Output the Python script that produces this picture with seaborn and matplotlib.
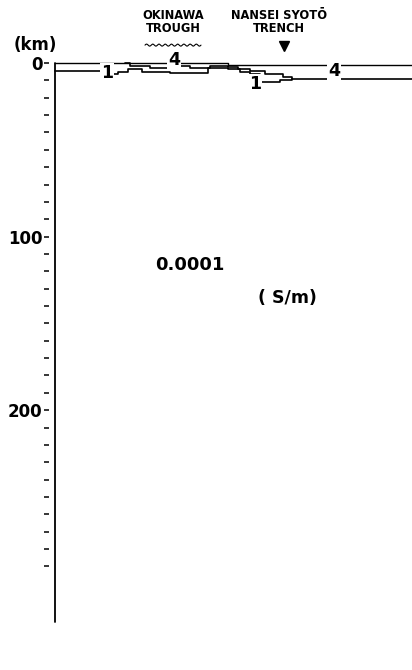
import numpy as np
import pandas as pd
import matplotlib
matplotlib.use("Agg")
import matplotlib.pyplot as plt
from matplotlib.ticker import FixedLocator
import seaborn as sns

# Model top (sea surface) boundary: distance (km) and depth (km)
top_x = [0, 346, 714]
top_z = [0.0, 1.2, 1.2]

# Contour 4 S/m (sea water / sea floor)
sea_x = [140, 150, 190, 230, 270, 310, 346, 366, 390, 420, 456, 474, 714]
sea_z = [0.0, 1.7, 2.9, 1.7, 2.9, 1.7, 2.3, 3.5, 4.6, 6.3, 8.1, 9.2, 9.2]

# Contour 1 S/m (base of sediments)
sed_x = [0, 104, 126, 146, 174, 230, 306, 346, 370, 390, 410, 450, 474]
sed_z = [4.6, 6.3, 5.2, 3.5, 5.2, 5.8, 2.9, 3.5, 5.2, 6.3, 11.0, 9.8, 9.2]

# Contour labels: (distance, depth, text)
label_x = [238, 558, 104, 400]
label_z = [-1.7, 4.6, 5.8, 12.1]
label_txt = ["4", "4", "1", "1"]

# Background conductivity annotation
bg_value = "0.0001"
bg_unit = "( S/m)"

# Features along the profile
trough_x = 236
trench_x = 458

y_major = [0, 100, 200]
y_labels = ["0", "100", "200"]

sns.set_style("white")
plt.rcParams["font.family"] = ["DejaVu Sans"]
plt.rcParams["text.color"] = "black"
plt.rcParams["ytick.color"] = "black"
plt.rcParams["ytick.labelcolor"] = "black"

fig = plt.figure(figsize=(4.12, 6.70), dpi=100)
ax = fig.add_axes([55 / 412, 48 / 670, 357 / 412, 559 / 670])

line_kw = dict(color="black", estimator=None, drawstyle="steps-post",
               legend=False, ax=ax, clip_on=False)
sns.lineplot(data=pd.DataFrame({"x": top_x, "z": top_z}), x="x", y="z", lw=1.0, **line_kw)
sns.lineplot(data=pd.DataFrame({"x": sea_x, "z": sea_z}), x="x", y="z", lw=1.2, **line_kw)
sns.lineplot(data=pd.DataFrame({"x": sed_x, "z": sed_z}), x="x", y="z", lw=1.2, **line_kw)

for lx, lz, t in zip(label_x, label_z, label_txt):
    ax.text(lx, lz, t, ha="center", va="center", fontsize=12.5, fontweight="bold",
            color="black", clip_on=False,
            bbox=dict(boxstyle="square,pad=0.05", fc="white", ec="none"))

ax.set_xlim(0, 714)
ax.set_ylim(322, 0)

# Background value and unit
ax.text(270, 116.5, bg_value, ha="center", va="center", fontsize=13,
        fontweight="bold", color="black")
ax.text(464, 135.5, bg_unit, ha="center", va="center", fontsize=12.5,
        fontweight="bold", color="black")

# Depth axis: detached dash ticks with a separate axis line
for s in ["top", "right", "bottom"]:
    ax.spines[s].set_visible(False)
ax.spines["left"].set_position(("outward", 4))
ax.spines["left"].set_color("none")
ax.axvline(0, color="black", lw=1.3, clip_on=False)
ax.yaxis.set_major_locator(FixedLocator(y_major))
ax.yaxis.set_minor_locator(FixedLocator([v for v in range(10, 300, 10) if v not in y_major]))
ax.set_yticklabels(y_labels)
ax.tick_params(axis="y", which="both", direction="out", length=3.4, width=1.1,
               color="black", labelcolor="black", left=True)
ax.tick_params(axis="y", which="major", pad=1.5, labelsize=12)
for lab in ax.get_yticklabels():
    lab.set_fontweight("bold")
ax.set_xticks([])
ax.set_ylabel("")
ax.set_xlabel("")

ax.text(-0.056, 1.032, "(km)", transform=ax.transAxes, ha="center", va="center",
        fontsize=12, fontweight="bold", color="black")

# Profile features above the section
trans = matplotlib.transforms.blended_transform_factory(ax.transData, ax.transAxes)
ax.text(trough_x, 1.074, "OKINAWA\nTROUGH", transform=trans, ha="center", va="center",
        fontsize=8.3, fontweight="bold", linespacing=1.0, color="black")
ax.text(trench_x - 10, 1.074, "NANSEI SYOTŌ\nTRENCH", transform=trans, ha="center",
        va="center", fontsize=8.3, fontweight="bold", linespacing=1.0, color="black")
ax.plot([trench_x], [1.030], marker="v", color="black", markersize=7,
        transform=trans, clip_on=False)

# Wavy symbol marking the trough axis
wx = np.linspace(trough_x - 56, trough_x + 56, 300)
wy = 1.032 + 0.0018 * np.sin((wx - wx[0]) / 112 * 2 * np.pi * 9)
ax.plot(wx, wy, color="black", lw=0.8, transform=trans, clip_on=False)

fig.savefig("out.png", dpi=100, facecolor="white")
